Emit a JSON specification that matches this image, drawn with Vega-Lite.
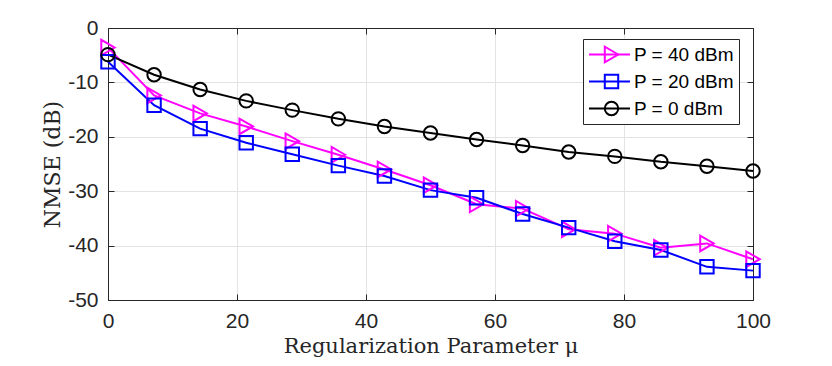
{
  "$schema": "https://vega.github.io/schema/vega-lite/v6.json",
  "width": 645,
  "height": 272,
  "autosize": {"type": "none"},
  "padding": {"left": 108, "top": 28, "right": 79, "bottom": 66},
  "background": "white",
  "config": {"view": {"stroke": null}},
  "data": {"values": [
    {"x": 0, "P": "P = 40 dBm", "y": -3.6},
    {"x": 7.143, "P": "P = 40 dBm", "y": -12.4},
    {"x": 14.286, "P": "P = 40 dBm", "y": -15.7},
    {"x": 21.429, "P": "P = 40 dBm", "y": -18.1},
    {"x": 28.571, "P": "P = 40 dBm", "y": -20.8},
    {"x": 35.714, "P": "P = 40 dBm", "y": -23.3},
    {"x": 42.857, "P": "P = 40 dBm", "y": -26.0},
    {"x": 50, "P": "P = 40 dBm", "y": -28.9},
    {"x": 57.143, "P": "P = 40 dBm", "y": -32.4},
    {"x": 64.286, "P": "P = 40 dBm", "y": -33.2},
    {"x": 71.429, "P": "P = 40 dBm", "y": -37.0},
    {"x": 78.571, "P": "P = 40 dBm", "y": -37.8},
    {"x": 85.714, "P": "P = 40 dBm", "y": -40.4},
    {"x": 92.857, "P": "P = 40 dBm", "y": -39.6},
    {"x": 100, "P": "P = 40 dBm", "y": -42.5},
    {"x": 0, "P": "P = 20 dBm", "y": -6.2},
    {"x": 7.143, "P": "P = 20 dBm", "y": -14.2},
    {"x": 14.286, "P": "P = 20 dBm", "y": -18.5},
    {"x": 21.429, "P": "P = 20 dBm", "y": -21.1},
    {"x": 28.571, "P": "P = 20 dBm", "y": -23.2},
    {"x": 35.714, "P": "P = 20 dBm", "y": -25.3},
    {"x": 42.857, "P": "P = 20 dBm", "y": -27.2},
    {"x": 50, "P": "P = 20 dBm", "y": -29.8},
    {"x": 57.143, "P": "P = 20 dBm", "y": -31.2},
    {"x": 64.286, "P": "P = 20 dBm", "y": -34.2},
    {"x": 71.429, "P": "P = 20 dBm", "y": -36.7},
    {"x": 78.571, "P": "P = 20 dBm", "y": -39.2},
    {"x": 85.714, "P": "P = 20 dBm", "y": -40.8},
    {"x": 92.857, "P": "P = 20 dBm", "y": -43.9},
    {"x": 100, "P": "P = 20 dBm", "y": -44.6},
    {"x": 0, "P": "P = 0 dBm", "y": -4.9},
    {"x": 7.143, "P": "P = 0 dBm", "y": -8.6},
    {"x": 14.286, "P": "P = 0 dBm", "y": -11.3},
    {"x": 21.429, "P": "P = 0 dBm", "y": -13.4},
    {"x": 28.571, "P": "P = 0 dBm", "y": -15.1},
    {"x": 35.714, "P": "P = 0 dBm", "y": -16.7},
    {"x": 42.857, "P": "P = 0 dBm", "y": -18.1},
    {"x": 50, "P": "P = 0 dBm", "y": -19.3},
    {"x": 57.143, "P": "P = 0 dBm", "y": -20.5},
    {"x": 64.286, "P": "P = 0 dBm", "y": -21.6},
    {"x": 71.429, "P": "P = 0 dBm", "y": -22.8},
    {"x": 78.571, "P": "P = 0 dBm", "y": -23.6},
    {"x": 85.714, "P": "P = 0 dBm", "y": -24.6},
    {"x": 92.857, "P": "P = 0 dBm", "y": -25.4},
    {"x": 100, "P": "P = 0 dBm", "y": -26.3}
  ]},
  "resolve": {"axis": {"x": "independent", "y": "independent"}},
  "layer": [
    {
      "mark": {"type": "line", "strokeWidth": 2},
      "encoding": {
        "x": {"field": "x", "type": "quantitative",
          "scale": {"domain": [0, 100], "nice": false},
          "axis": {"orient": "bottom", "values": [0, 20, 40, 60, 80, 100], "grid": true, "gridColor": "#e3e3e3",
            "labelFlush": false, "labelOverlap": false,
            "domainColor": "#262626", "tickColor": "#262626", "tickSize": -6, "labelPadding": 16,
            "labelFont": "Liberation Sans", "labelFontSize": 21, "labelColor": "#262626",
            "title": "Regularization Parameter μ", "titleFont": "DejaVu Serif", "titleFontSize": 21,
            "titleFontWeight": "normal", "titleColor": "#262626", "titlePadding": 4}},
        "y": {"field": "y", "type": "quantitative",
          "scale": {"domain": [-50, 0], "nice": false},
          "axis": {"orient": "left", "values": [-50, -40, -30, -20, -10, 0], "grid": true, "gridColor": "#e3e3e3",
            "labelFlush": false, "labelOverlap": false,
            "domainColor": "#262626", "tickColor": "#262626", "tickSize": -6, "labelPadding": 16,
            "labelExpr": "'' + datum.value",
            "labelFont": "Liberation Sans", "labelFontSize": 21, "labelColor": "#262626",
            "title": "NMSE (dB)", "titleFont": "DejaVu Serif", "titleFontSize": 22,
            "titleFontWeight": "normal", "titleColor": "#262626", "titlePadding": 3}},
        "color": {"field": "P", "type": "nominal",
          "scale": {"domain": ["P = 40 dBm", "P = 20 dBm", "P = 0 dBm"], "range": ["#ff00ff", "#0000ff", "#000000"]},
          "legend": {"orient": "none", "legendX": 475, "legendY": 11, "title": null,
            "symbolType": "stroke", "symbolSize": 1681, "symbolStrokeWidth": 2,
            "fillColor": "white", "strokeColor": "#262626", "padding": 5,
            "clipHeight": 21, "rowPadding": 6, "labelFont": "Liberation Sans", "labelFontSize": 19,
            "labelColor": "#000000", "labelOffset": 3, "labelLimit": 300}}
      }
    },
    {
      "mark": {"type": "point", "filled": false, "strokeWidth": 2, "opacity": 1},
      "encoding": {
        "x": {"field": "x", "type": "quantitative",
          "axis": {"orient": "top", "values": [0, 20, 40, 60, 80, 100], "labels": false, "grid": false,
            "domainColor": "#262626", "tickColor": "#262626", "tickSize": -6, "title": null}},
        "y": {"field": "y", "type": "quantitative",
          "axis": {"orient": "right", "values": [-50, -40, -30, -20, -10, 0], "labels": false, "grid": false,
            "domainColor": "#262626", "tickColor": "#262626", "tickSize": -6, "title": null}},
        "stroke": {"field": "P", "type": "nominal", "sort": "descending",
          "scale": {"range": ["#ff00ff", "#0000ff", "#000000"]},
          "legend": {"orient": "none", "legendX": 475, "legendY": 11, "title": null,
            "symbolOffset": 14, "symbolStrokeWidth": 2, "padding": 5,
            "clipHeight": 21, "rowPadding": 6, "labelExpr": "''", "labelFontSize": 19, "labelOffset": 3}},
        "shape": {"field": "P", "type": "nominal", "sort": "descending",
          "scale": {"range": ["triangle-right", "square", "circle"]}},
        "size": {"field": "P", "type": "nominal", "sort": "descending",
          "scale": {"type": "ordinal", "range": [240, 180, 180]}}
      }
    }
  ]
}
